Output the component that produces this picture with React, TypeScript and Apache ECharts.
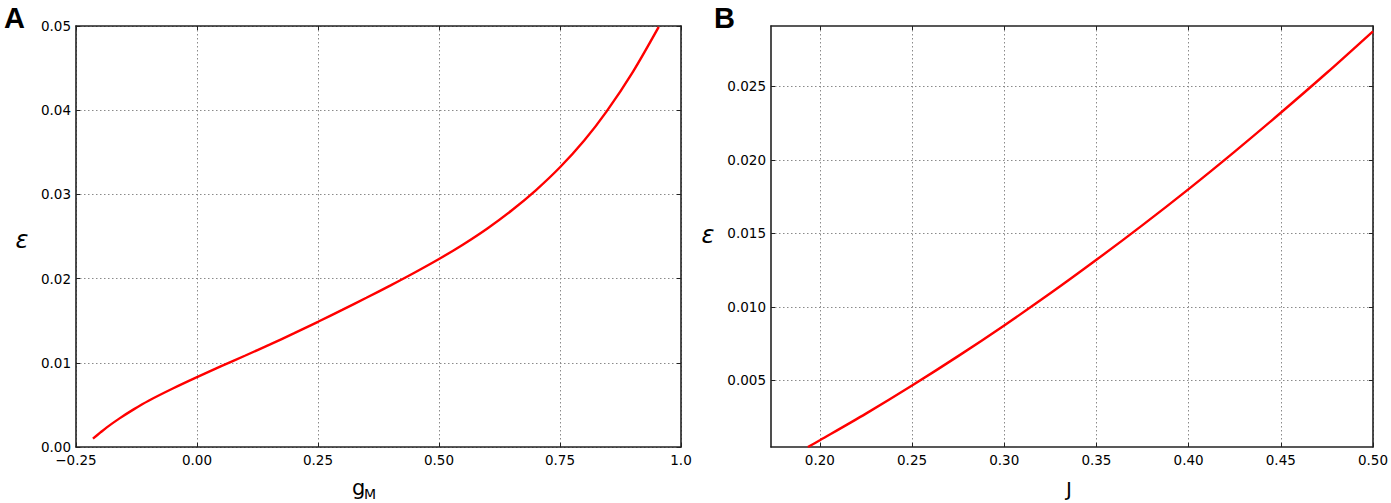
import React, { useEffect, useRef } from 'react';
import * as echarts from 'echarts';

// Panel A: epsilon vs g_M
const gmValues = [-0.215, -0.2, -0.187, -0.16, -0.13, -0.1, -0.05, 0.0, 0.05, 0.1, 0.15, 0.2, 0.25, 0.3, 0.35, 0.4, 0.45, 0.5, 0.55, 0.6, 0.65, 0.7, 0.75, 0.8, 0.846, 0.9, 0.954];
const epsA = [0.001, 0.0017, 0.0023, 0.0034, 0.0045, 0.0055, 0.00695, 0.0083, 0.0096, 0.01087, 0.01216, 0.01349, 0.01487, 0.01628, 0.01772, 0.0192, 0.02073, 0.02233, 0.02406, 0.02596, 0.02809, 0.03049, 0.03322, 0.0364, 0.03983, 0.0445, 0.0499];

// Panel B: epsilon vs J
const jValues = [0.1935, 0.2, 0.225, 0.25, 0.275, 0.3, 0.325, 0.35, 0.375, 0.4, 0.425, 0.45, 0.475, 0.5];
const epsB = [0.00047, 0.00093, 0.00274, 0.00465, 0.00665, 0.00874, 0.01092, 0.0132, 0.01556, 0.01801, 0.02056, 0.0232, 0.02592, 0.02874];

const xTicksB = [0.2, 0.25, 0.3, 0.35, 0.4, 0.45, 0.5];
const yTicksB = [0.005, 0.01, 0.015, 0.02, 0.025];

const FONT = '"DejaVu Sans", sans-serif';
const AXIS_COLOR = '#222';

const splitLine = {
  show: true,
  lineStyle: { color: '#8a8a8a', width: 1, type: [1.5, 2.5] as any },
};
const axisLine = { show: true, onZero: false, lineStyle: { color: AXIS_COLOR, width: 1.6 } };
const tick = (extra: any = {}) => ({ show: true, inside: true, length: 4, lineStyle: { color: AXIS_COLOR, width: 1 }, ...extra });
const label = (formatter: any, extra: any = {}) => ({
  show: true,
  formatter,
  fontSize: 13.5,
  fontFamily: FONT,
  color: '#000',
  margin: 6,
  showMinLabel: true,
  showMaxLabel: true,
  hideOverlap: false,
  ...extra,
});

const fmtA = (v: number) => {
  if (Math.abs(v - 1) < 1e-9) return '1.0';
  const s = Math.abs(v).toFixed(2);
  return v < -1e-9 ? '\u2212' + s : s;
};

export default function App() {
  const ref = useRef<HTMLDivElement>(null);
  useEffect(() => {
    if (!ref.current) return;
    const chart = echarts.init(ref.current, null, { renderer: 'svg' });
    const option: any = {
      animation: false,
      backgroundColor: '#fff',
      grid: [
        { left: 76, top: 26, width: 605, height: 421 },
        { left: 771, top: 26, width: 604, height: 421 },
      ],
      xAxis: [
        {
          type: 'value', gridIndex: 0, position: 'bottom', min: -0.25, max: 1, interval: 0.25,
          axisLine, axisTick: tick(), axisLabel: label(fmtA), splitLine,
        },
        {
          type: 'value', gridIndex: 0, position: 'top', min: -0.25, max: 1, interval: 0.25,
          axisLine, axisTick: tick(), axisLabel: { show: false }, splitLine: { show: false },
        },
        {
          type: 'value', gridIndex: 1, position: 'bottom', min: 0.1735, max: 0.5,
          axisLine, axisTick: tick({ customValues: xTicksB }),
          axisLabel: label((v: number) => v.toFixed(2), { customValues: xTicksB }), splitLine,
        },
        {
          type: 'value', gridIndex: 1, position: 'top', min: 0.1735, max: 0.5,
          axisLine, axisTick: tick({ customValues: xTicksB }),
          axisLabel: { show: false, customValues: xTicksB }, splitLine: { show: false },
        },
      ],
      yAxis: [
        {
          type: 'value', gridIndex: 0, position: 'left', min: 0, max: 0.05, interval: 0.01,
          axisLine, axisTick: tick(), axisLabel: label((v: number) => v.toFixed(2), { margin: 5 }), splitLine,
        },
        {
          type: 'value', gridIndex: 0, position: 'right', min: 0, max: 0.05, interval: 0.01,
          axisLine, axisTick: tick(), axisLabel: { show: false }, splitLine: { show: false },
        },
        {
          type: 'value', gridIndex: 1, position: 'left', min: 0.00047, max: 0.0291,
          axisLine, axisTick: tick({ customValues: yTicksB }),
          axisLabel: label((v: number) => v.toFixed(3), { customValues: yTicksB, margin: 5 }), splitLine,
        },
        {
          type: 'value', gridIndex: 1, position: 'right', min: 0.00047, max: 0.0291,
          axisLine, axisTick: tick({ customValues: yTicksB }),
          axisLabel: { show: false, customValues: yTicksB }, splitLine: { show: false },
        },
      ],
      series: [
        {
          type: 'line', xAxisIndex: 0, yAxisIndex: 0, smooth: 0.3, showSymbol: false, symbol: 'none',
          data: gmValues.map((x, i) => [x, epsA[i]]),
          lineStyle: { color: '#ff0000', width: 2.4 }, z: 5,
        },
        {
          type: 'line', xAxisIndex: 2, yAxisIndex: 2, smooth: 0.3, showSymbol: false, symbol: 'none',
          data: jValues.map((x, i) => [x, epsB[i]]),
          lineStyle: { color: '#ff0000', width: 2.4 }, z: 5,
        },
      ],
      graphic: [
        { type: 'text', x: 4, y: 18, style: { text: 'A', fontSize: 29, fontWeight: 'bold', fontFamily: '"Liberation Sans", Arial, sans-serif', fill: '#000', align: 'left', verticalAlign: 'middle' } },
        { type: 'text', x: 714, y: 18, style: { text: 'B', fontSize: 29, fontWeight: 'bold', fontFamily: '"Liberation Sans", Arial, sans-serif', fill: '#000', align: 'left', verticalAlign: 'middle' } },
        { type: 'text', x: 22, y: 240, style: { text: '\u03b5', fontSize: 24, fontStyle: 'italic', fontFamily: FONT, fill: '#000', align: 'center', verticalAlign: 'middle' } },
        { type: 'text', x: 708, y: 235, style: { text: '\u03b5', fontSize: 24, fontStyle: 'italic', fontFamily: FONT, fill: '#000', align: 'center', verticalAlign: 'middle' } },
        { type: 'text', x: 352, y: 488, style: { text: 'g', fontSize: 21, fontFamily: FONT, fill: '#000', align: 'left', verticalAlign: 'middle' } },
        { type: 'text', x: 364, y: 494, style: { text: 'M', fontSize: 14, fontFamily: FONT, fill: '#000', align: 'left', verticalAlign: 'middle' } },
        { type: 'text', x: 1069, y: 489, style: { text: 'J', fontSize: 20, fontFamily: FONT, fill: '#000', align: 'center', verticalAlign: 'middle' } },
      ],
    };
    chart.setOption(option);
    return () => chart.dispose();
  }, []);
  return (
    <div
      ref={ref}
      style={{ position: 'fixed', left: 0, top: 0, width: 1391, height: 503, background: '#fff' }}
    />
  );
}
